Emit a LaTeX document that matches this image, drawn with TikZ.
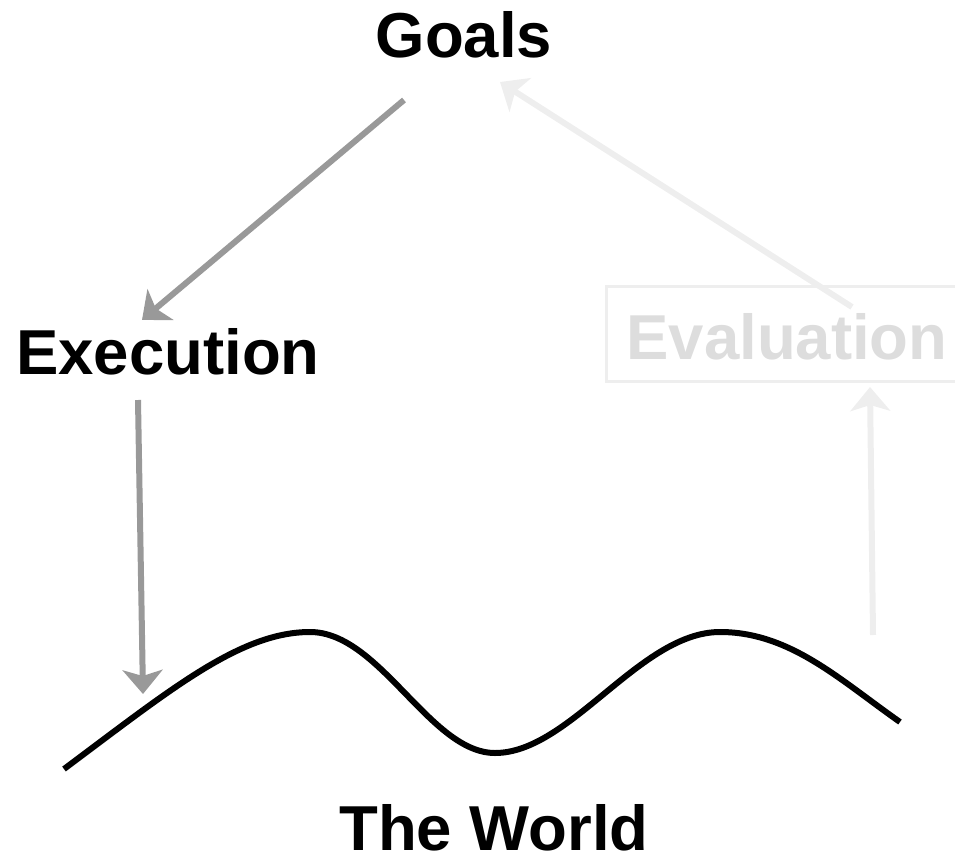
\documentclass[tikz,border=0pt]{standalone}
\usepackage{fontspec}
\setmainfont{Liberation Sans}
\usetikzlibrary{arrows.meta}
\definecolor{execgray}{HTML}{999999}
\definecolor{evalline}{HTML}{EEEEEE}
\definecolor{evaltext}{HTML}{DDDDDD}
\tikzset{
  lbl/.style={font=\fontsize{63.5}{70}\selectfont\bfseries, inner sep=0pt, anchor=base},
  execarrow/.style={draw=execgray, line width=6pt, -{Stealth[length=24pt,width=40pt,inset=6pt]}},
  evalarrow/.style={draw=evalline, line width=6pt, -{Stealth[length=24pt,width=40pt,inset=6pt]}},
  world/.style={draw=black, line width=6pt}
}
\begin{document}
\begin{tikzpicture}[x=1pt,y=-1pt]
\useasboundingbox (0,0) rectangle (955,859);
% labels
\node[lbl] (goals) at (464,58) {Goals};
\node[lbl] (exec) at (168,374) {Execution};
\node[lbl, text=evaltext] (eval) at (787,359) {Evaluation};
\node[lbl] (world) at (494,850) {The World};
% evaluation box
\draw[evalline, line width=3pt] (606,286) rectangle (962,381);
% connector coordinates
\coordinate (g1) at (404,100);
\coordinate (e1) at (142,320);
\coordinate (e2) at (138,400);
\coordinate (w1) at (143,694);
\coordinate (w2) at (873,635);
\coordinate (v1) at (870,387);
\coordinate (v2) at (852,307);
\coordinate (g2) at (500,82);
% arrows
\draw[execarrow] (g1) -- (e1);
\draw[execarrow] (e2) -- (w1);
\draw[evalarrow] (w2) -- (v1);
\draw[evalarrow] (v2) -- (g2);
% the world
\draw[world] (64,769) .. controls (170,690) and (240,632) .. (310,632)
  .. controls (380,632) and (430,753) .. (495,753)
  .. controls (570,753) and (640,632) .. (720,632)
  .. controls (790,632) and (840,680) .. (900,722);
\end{tikzpicture}
\end{document}
